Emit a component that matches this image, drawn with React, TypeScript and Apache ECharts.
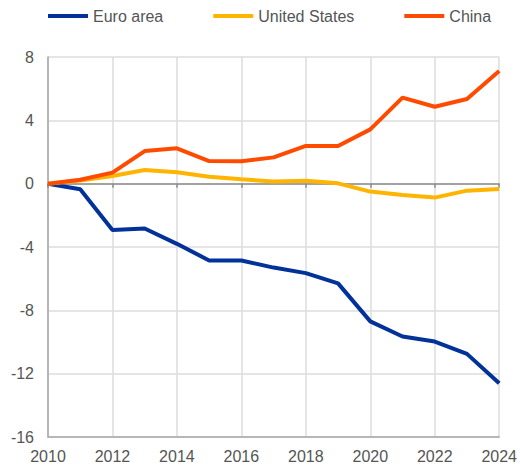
import React, { useEffect, useRef } from "react";
import * as echarts from "echarts";

const years = [2010, 2011, 2012, 2013, 2014, 2015, 2016, 2017, 2018, 2019, 2020, 2021, 2022, 2023, 2024];
const euroArea = [0, -0.35, -2.92, -2.83, -3.8, -4.85, -4.85, -5.3, -5.65, -6.3, -8.7, -9.65, -9.97, -10.75, -12.6];
const unitedStates = [0, 0.2, 0.49, 0.86, 0.72, 0.44, 0.28, 0.13, 0.19, 0.02, -0.5, -0.72, -0.88, -0.44, -0.33];
const china = [0, 0.25, 0.7, 2.06, 2.23, 1.43, 1.41, 1.66, 2.38, 2.38, 3.43, 5.43, 4.86, 5.35, 7.12];

const seriesNames = ["Euro area", "United States", "China"];
const seriesColors = ["#003299", "#ffb400", "#ff4b00"];

export default function App() {
  const ref = useRef<HTMLDivElement>(null);
  useEffect(() => {
    if (!ref.current) return;
    const chart = echarts.init(ref.current, undefined, { renderer: "svg" });
    const datasets = [euroArea, unitedStates, china];
    const font = "'Liberation Sans', Arial, sans-serif";
    chart.setOption({
      animation: false,
      textStyle: { fontFamily: font },
      legend: {
        top: 3,
        left: 43,
        itemWidth: 40,
        itemHeight: 4,
        itemGap: 50,
        icon: "rect",
        textStyle: { fontSize: 16, color: "#555", fontFamily: font },
        data: seriesNames,
      },
      grid: { left: 48, right: 18, top: 57, bottom: 32, containLabel: false },
      xAxis: [
        {
          type: "value",
          min: 2010,
          max: 2024,
          interval: 2,
          position: "bottom",
          axisLine: { onZero: false, lineStyle: { color: "#a6a6a6", width: 1.5 } },
          axisTick: { show: false },
          axisLabel: { fontSize: 16, color: "#555", margin: 11, fontFamily: font, formatter: (v: number) => String(v) },
          splitLine: { show: true, lineStyle: { color: "#dcdcdc", width: 1.5 } },
        },
        {
          type: "value",
          min: 2010,
          max: 2024,
          interval: 2,
          position: "bottom",
          axisLine: { onZero: true, onZeroAxisIndex: 0, lineStyle: { color: "#8c8c8c", width: 1.5 } },
          axisTick: { show: true, length: 4, lineStyle: { color: "#8c8c8c", width: 1.5 } },
          axisLabel: { show: false },
          splitLine: { show: false },
        },
      ],
      yAxis: {
        type: "value",
        min: -16,
        max: 8,
        interval: 4,
        axisLine: { show: true, lineStyle: { color: "#a6a6a6", width: 1.5 } },
        axisTick: { show: false },
        axisLabel: { fontSize: 16, color: "#555", margin: 14, fontFamily: font },
        splitLine: { show: true, lineStyle: { color: "#dcdcdc", width: 1.5 } },
      },
      series: seriesNames.map((name, i) => ({
        name,
        type: "line",
        xAxisIndex: 0,
        data: years.map((y, j) => [y, datasets[i][j]]),
        symbol: "none",
        color: seriesColors[i],
        lineStyle: { width: 4, color: seriesColors[i] },
        z: 3 + i,
      })),
    });
    return () => chart.dispose();
  }, []);
  return <div ref={ref} style={{ position: "absolute", left: 0, top: 0, width: 520, height: 469 }} />;
}
